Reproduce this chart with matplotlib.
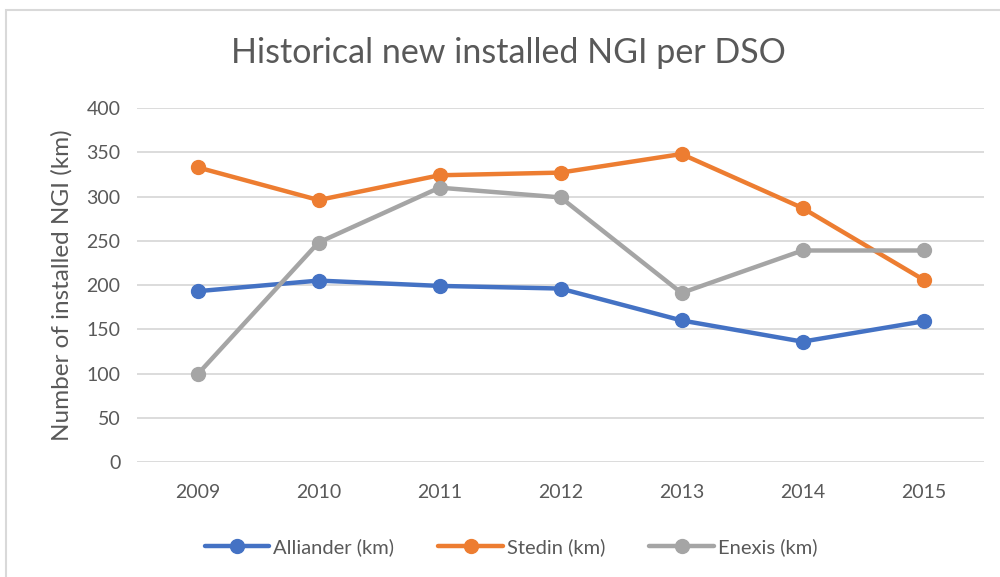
import matplotlib
matplotlib.use("Agg")
import matplotlib.pyplot as plt
from matplotlib.patches import Rectangle

years = ["2009", "2010", "2011", "2012", "2013", "2014", "2015"]
alliander = [193, 205, 199, 196, 160, 136, 159]
stedin = [333, 296, 324, 327, 348, 287, 206]
enexis = [99, 248, 310, 299, 191, 239, 239]
yticks = [0, 50, 100, 150, 200, 250, 300, 350, 400]

plt.rcParams['font.family'] = ['Lato', 'DejaVu Sans']
txt = '#595959'

fig = plt.figure(figsize=(10, 5.77), dpi=100)
fig.patches.append(Rectangle((0.006, -0.01), 1.2, 0.993, transform=fig.transFigure,
                             fill=False, edgecolor='#D9D9D9', linewidth=1.5))
ax = fig.add_axes([0.137, 0.1993, 0.847, 0.6135])
x = list(range(len(years)))
series = [("Alliander (km)", alliander, '#4472C4'),
          ("Stedin (km)", stedin, '#ED7D31'),
          ("Enexis (km)", enexis, '#A5A5A5')]
for name, vals, c in series:
    ax.plot(x, vals, color=c, linewidth=3.2, marker='o', markersize=10,
            label=name, solid_capstyle='round', zorder=3)
ax.set_xlim(-0.5, len(years) - 0.5)
ax.set_ylim(0, 400)
ax.set_yticks(yticks)
ax.set_xticks(x)
ax.set_xticklabels(years)
ax.grid(axis='y', color='#D9D9D9', linewidth=1.3)
ax.set_axisbelow(True)
for s in ax.spines.values():
    s.set_visible(False)
ax.tick_params(length=0, labelsize=14, colors=txt, pad=12)
ax.tick_params(axis='x', pad=16)
ax.set_ylabel("Number of installed NGI (km)", fontsize=17.5, color=txt, labelpad=10)
fig.text(0.508, 0.908, "Historical new installed NGI per DSO", ha='center', va='center',
         fontsize=24.5, color=txt)
leg = fig.legend(loc='center', bbox_to_anchor=(0.511, 0.052), ncol=3, frameon=False,
                 fontsize=14.5, handlelength=3.2, columnspacing=2.2, handletextpad=0.2,
                 labelcolor=txt)
fig.savefig("out.png", dpi=100)
